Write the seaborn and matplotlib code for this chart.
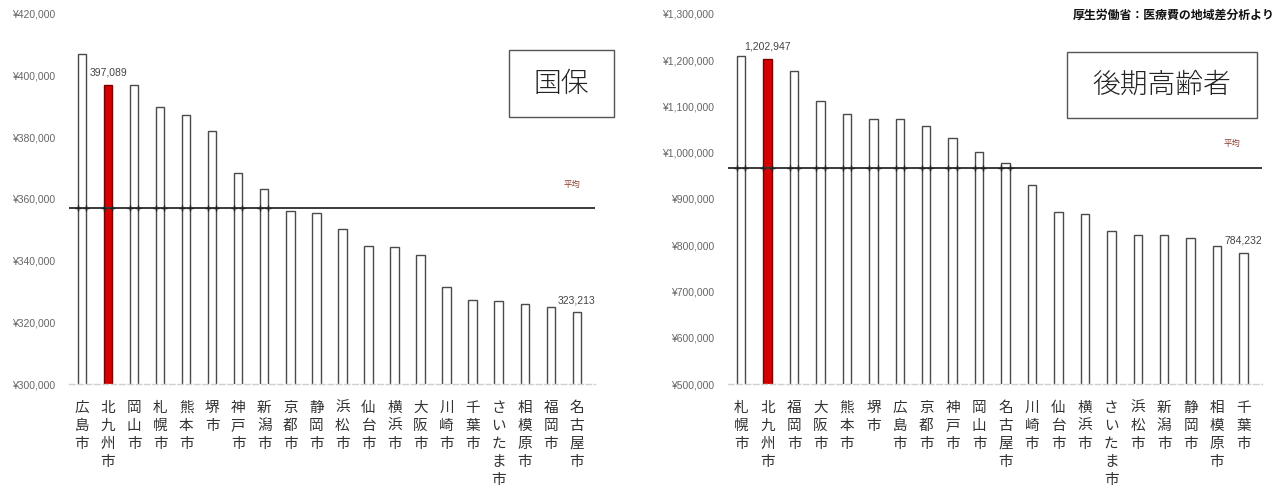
import matplotlib
matplotlib.use("Agg")
import matplotlib.pyplot as plt
import matplotlib.ticker as mticker
import seaborn as sns
import pandas as pd

sns.set_theme(style="white")
plt.rcParams["font.family"] = ["Noto Sans CJK JP", "DejaVu Sans"]

# 国保: 一人当たり医療費（市別）
kokuho_cities = ["広島市", "北九州市", "岡山市", "札幌市", "熊本市", "堺市", "神戸市",
                 "新潟市", "京都市", "静岡市", "浜松市", "仙台市", "横浜市", "大阪市",
                 "川崎市", "千葉市", "さいたま市", "相模原市", "福岡市", "名古屋市"]
kokuho_values = [407000, 397089, 397100, 389900, 387300, 381900, 368500,
                 363400, 356100, 355500, 350300, 344700, 344500, 341800,
                 331400, 327400, 326900, 326100, 324900, 323213]
kokuho_avg = 357000
kokuho_ticks = [300000, 320000, 340000, 360000, 380000, 400000, 420000]

# 後期高齢者: 一人当たり医療費（市別）
kouki_cities = ["札幌市", "北九州市", "福岡市", "大阪市", "熊本市", "堺市", "広島市",
                "京都市", "神戸市", "岡山市", "名古屋市", "川崎市", "仙台市", "横浜市",
                "さいたま市", "浜松市", "新潟市", "静岡市", "相模原市", "千葉市"]
kouki_values = [1209300, 1202947, 1177500, 1112700, 1083300, 1072500, 1072000,
                1058700, 1032000, 1002600, 977500, 929200, 871700, 867400,
                829800, 822600, 822600, 815500, 798900, 784232]
kouki_avg = 968000
kouki_ticks = [500000, 600000, 700000, 800000, 900000, 1000000, 1100000, 1200000, 1300000]

highlight = "北九州市"
labelled = {"kokuho": ["北九州市", "名古屋市"], "kouki": ["北九州市", "千葉市"]}

W, H = 1287, 494
fig = plt.figure(figsize=(W / 100, H / 100), dpi=100)
ax_l = fig.add_axes([69 / W, 1 - 384 / H, (595 - 69) / W, (384 - 14) / H])
ax_r = fig.add_axes([728 / W, 1 - 384 / H, (1262 - 728) / W, (384 - 14) / H])

num_font = ["Liberation Sans", "DejaVu Sans"]
BAR_W = 0.32


def draw(ax, cities, values, avg, ticks, title, title_box, avg_pos, labels):
    df = pd.DataFrame({"city": cities, "value": values})
    palette = {c: ("#d50000" if c == highlight else "white") for c in cities}
    sns.barplot(data=df, x="city", y="value", hue="city", palette=palette,
                legend=False, width=BAR_W, ax=ax, saturation=1)
    for patch, c in zip(ax.patches, cities):
        patch.set_edgecolor("#7a0000" if c == highlight else "#4a4a4a")
        patch.set_linewidth(1.0)
    ax.set_ylim(ticks[0], ticks[-1])
    ax.set_xlim(-0.5, len(cities) - 0.3)
    ax.set_yticks(ticks)
    ax.yaxis.set_major_formatter(mticker.FuncFormatter(lambda v, p: f"¥{v:,.0f}"))
    for t in ax.get_yticklabels():
        t.set_fontfamily(num_font)
        t.set_fontsize(7.5)
        t.set_color("#666666")
    ax.tick_params(axis="y", length=0, pad=10)
    ax.set_xticks(range(len(cities)))
    ax.set_xticklabels(["\n".join(c) for c in cities], fontsize=10.5,
                       color="#333333", linespacing=1.36, va="top")
    ax.tick_params(axis="x", length=0, pad=12)
    ax.set_xlabel("")
    ax.set_ylabel("")
    for s in ["top", "right", "left"]:
        ax.spines[s].set_visible(False)
    ax.spines["bottom"].set_color("#d0d0d0")
    ax.spines["bottom"].set_linestyle((0, (4, 2)))
    ax.spines["bottom"].set_linewidth(1.0)

    # 平均線（平均を超える棒との交点に印）
    ax.axhline(avg, color="#3a3a3a", lw=1.4, zorder=3)
    cross_x = []
    for i, v in enumerate(values):
        if v > avg:
            cross_x += [i - BAR_W / 2, i + BAR_W / 2]
    sns.scatterplot(x=cross_x, y=[avg] * len(cross_x), marker="+",
                    s=22, color="#222222", linewidth=1.0, ax=ax, zorder=4)
    ax.annotate("平均", xy=(avg_pos, avg), xycoords=ax.get_yaxis_transform(),
                xytext=(0, 14), textcoords="offset points",
                ha="center", va="bottom", fontsize=6, color="#8b3a2a")

    # 数値ラベル
    for c in labels:
        i = cities.index(c)
        ax.annotate(f"{values[i]:,}", xy=(i, values[i]), xytext=(0, 5),
                    textcoords="offset points", ha="center", va="bottom",
                    fontsize=7.5, color="#444444", fontfamily=num_font)

    # 表題の枠
    x0, y0, x1, y1 = title_box
    fig.text((x0 + x1) / 2 / W, 1 - (y0 + y1) / 2 / H, title,
             ha="center", va="center", fontsize=20, color="#222222",
             fontweight="light")
    rect = plt.Rectangle((x0 / W, 1 - y1 / H), (x1 - x0) / W, (y1 - y0) / H,
                         transform=fig.transFigure, fill=False,
                         edgecolor="#555555", linewidth=1.0)
    fig.add_artist(rect)


draw(ax_l, kokuho_cities, kokuho_values, kokuho_avg, kokuho_ticks, "国保",
     (509, 50, 614, 117), 0.956, labelled["kokuho"])
draw(ax_r, kouki_cities, kouki_values, kouki_avg, kouki_ticks, "後期高齢者",
     (1067, 52, 1257, 118), 0.943, labelled["kouki"])

fig.text(1275 / W, 1 - 15 / H, "厚生労働省：医療費の地域差分析より",
         ha="right", va="center", fontsize=8.6, color="#111111", fontweight="bold")

fig.savefig("out.png", dpi=100, facecolor="white")
